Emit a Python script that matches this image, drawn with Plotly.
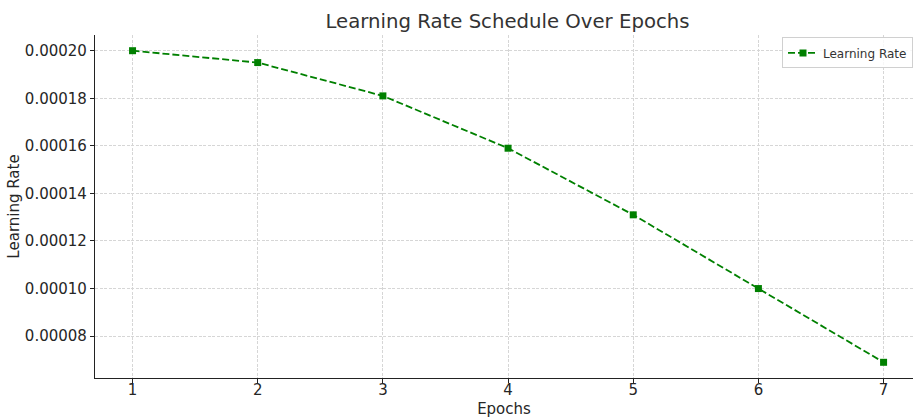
import plotly.graph_objects as go

epochs = [1, 2, 3, 4, 5, 6, 7]
learning_rate = [0.000200, 0.000195, 0.000181, 0.000159, 0.000131, 0.000100, 0.000069]
y_ticks = [0.00008, 0.00010, 0.00012, 0.00014, 0.00016, 0.00018, 0.00020]
y_tick_labels = ["0.00008", "0.00010", "0.00012", "0.00014", "0.00016", "0.00018", "0.00020"]

fig = go.Figure()
fig.add_trace(go.Scatter(
    x=epochs, y=learning_rate, mode="lines+markers", name="Learning Rate",
    line=dict(color="#008000", width=1.8, dash="7px,3px"),
    marker=dict(symbol="square", size=7, color="#008000"),
))

font_family = "DejaVu Sans, sans-serif"
fig.update_layout(
    width=914, height=418,
    margin=dict(l=95, r=1, t=35, b=40, autoexpand=False),
    paper_bgcolor="white", plot_bgcolor="white",
    font=dict(family=font_family, color="#262626"),
    title=dict(text="Learning Rate Schedule Over Epochs", x=0.5043, xanchor="center",
               xref="paper", yref="container", y=1 - 21 / 418, yanchor="middle",
               automargin=False, font=dict(size=19.7, color="#333333")),
    showlegend=True,
    legend=dict(x=1.0, y=0.993, xanchor="right", yanchor="top",
                bordercolor="#d0d0d0", borderwidth=1, bgcolor="rgba(255,255,255,0.8)",
                font=dict(size=12, color="#333333"), itemwidth=30),
)
grid = dict(showgrid=True, gridcolor="#d6d6d6", griddash="3px,1.5px", gridwidth=0.8,
            showline=True, linecolor="#222222", linewidth=1.2,
            ticks="outside", ticklen=4, tickcolor="#222222",
            zeroline=False, tickfont=dict(size=15), automargin=False)
fig.update_xaxes(
    range=[0.7, 7.235], tickvals=epochs, ticktext=[str(e) for e in epochs],
    ticklabelstandoff=-6,
    title=dict(text="Epochs", font=dict(size=15), standoff=9), **grid,
)
fig.update_yaxes(
    range=[0.0000624, 0.0002066], tickvals=y_ticks, ticktext=y_tick_labels,
    title=dict(text="Learning Rate", font=dict(size=15), standoff=1), **grid,
)

fig.write_html("out.html", post_script="document.body.style.margin='0';",
               config={"displayModeBar": False})
